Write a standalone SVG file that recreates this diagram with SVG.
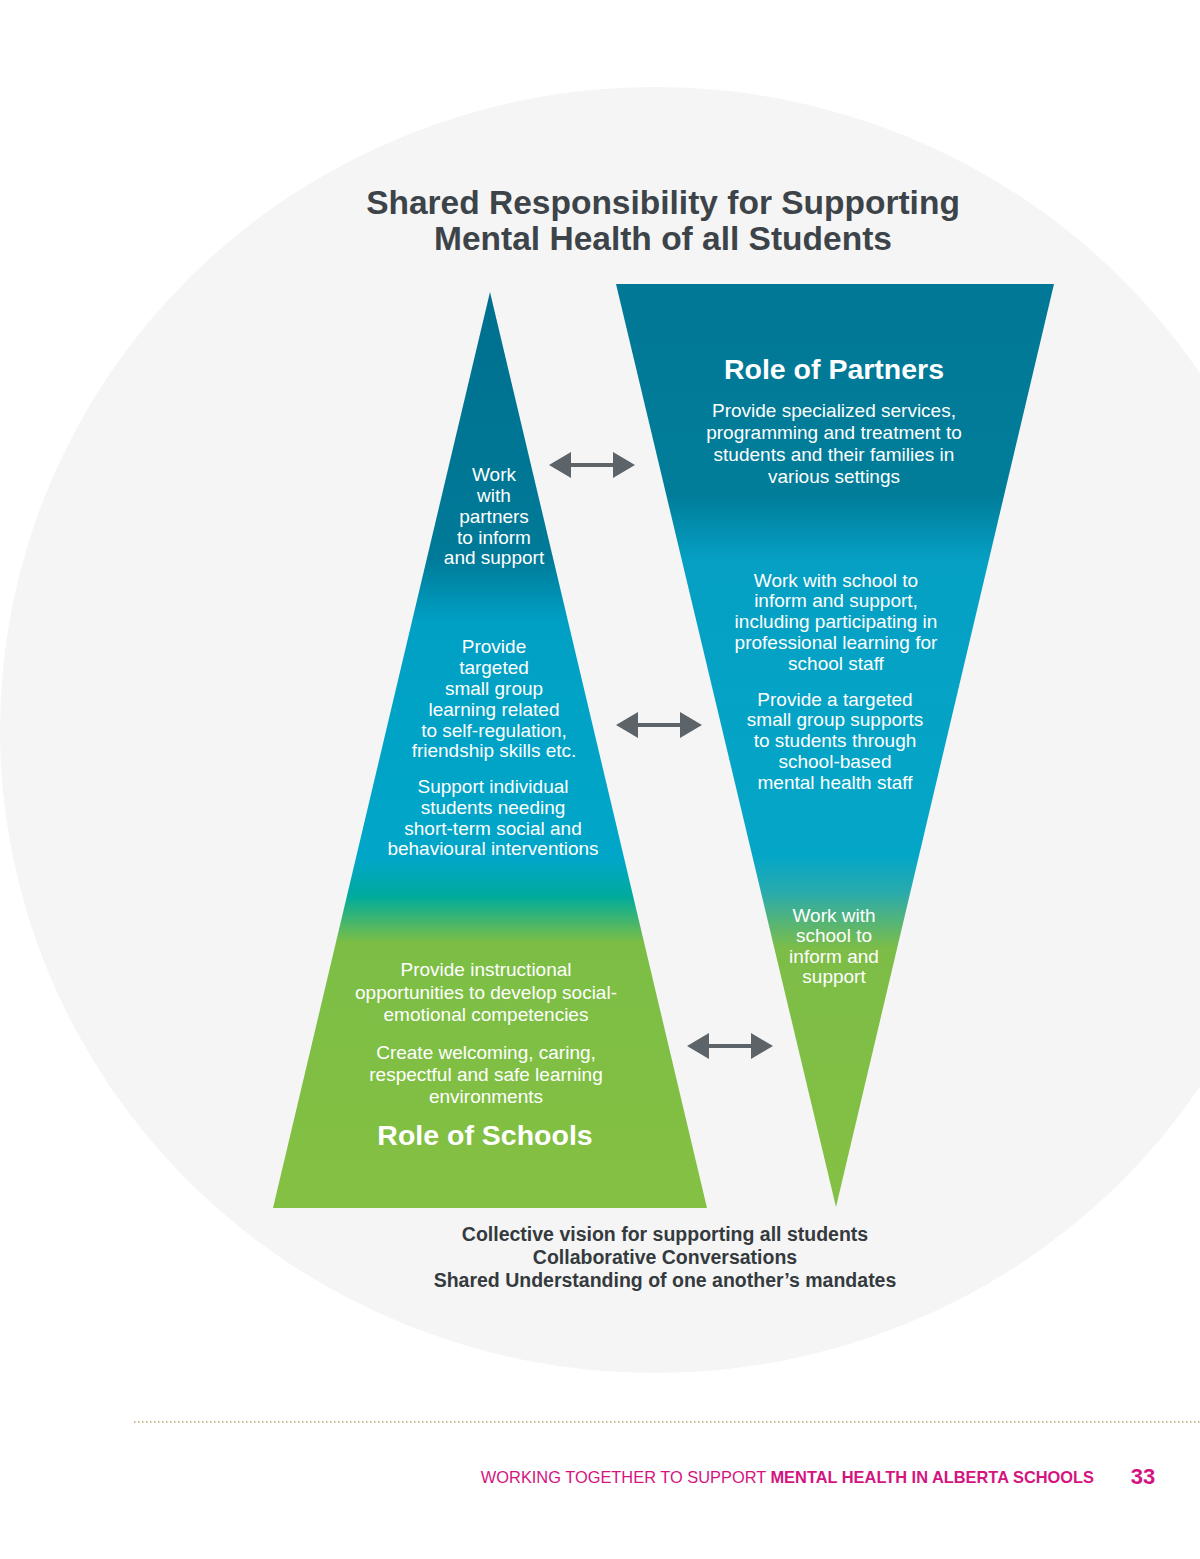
<svg xmlns="http://www.w3.org/2000/svg" width="1200" height="1559" viewBox="0 0 1200 1559">
<defs>
<linearGradient id="gl" x1="0" y1="292" x2="0" y2="1208" gradientUnits="userSpaceOnUse">
<stop offset="0" stop-color="#006f8f"/>
<stop offset="0.29" stop-color="#007a98"/>
<stop offset="0.36" stop-color="#00a0c4"/>
<stop offset="0.62" stop-color="#00a6c8"/>
<stop offset="0.66" stop-color="#00ab9c"/>
<stop offset="0.71" stop-color="#7cbe45"/>
<stop offset="1" stop-color="#84c043"/>
</linearGradient>
<linearGradient id="gr" x1="0" y1="284" x2="0" y2="1207" gradientUnits="userSpaceOnUse">
<stop offset="0" stop-color="#017895"/>
<stop offset="0.23" stop-color="#017d9a"/>
<stop offset="0.30" stop-color="#05a0c4"/>
<stop offset="0.62" stop-color="#04a6c8"/>
<stop offset="0.66" stop-color="#2aabab"/>
<stop offset="0.72" stop-color="#7dbd47"/>
<stop offset="1" stop-color="#84c043"/>
</linearGradient>
<g id="arr">
<polygon points="0,0 22,-13 22,-2 64,-2 64,-13 86,0 64,13 64,2 22,2 22,13" fill="#5c6469"/>
</g>
</defs>
<style>
.t{font-family:"Liberation Sans",Arial,sans-serif;fill:#fff;font-size:19px;text-anchor:middle}
.h{font-family:"Liberation Sans",Arial,sans-serif;fill:#fff;font-size:28.5px;font-weight:bold;text-anchor:middle}
.ti{font-family:"Liberation Sans",Arial,sans-serif;fill:#3d4449;font-size:33.5px;font-weight:bold;text-anchor:middle}
.b{font-family:"Liberation Sans",Arial,sans-serif;fill:#343a3e;font-size:19.5px;font-weight:bold;text-anchor:middle}
.f{font-family:"Liberation Sans",Arial,sans-serif;fill:#d4147f;font-size:16.4px}
</style>
<rect width="1200" height="1559" fill="#fff"/>
<ellipse cx="655" cy="730" rx="655" ry="643" fill="#f5f5f5"/>
<text class="ti" x="663" y="214">Shared Responsibility for Supporting</text>
<text class="ti" x="663" y="250">Mental Health of all Students</text>

<g id="schools">
<polygon points="490,292 707,1208 273,1208" fill="url(#gl)"/>
<text class="t" x="494" y="481">Work</text>
<text class="t" x="494" y="502">with</text>
<text class="t" x="494" y="523">partners</text>
<text class="t" x="494" y="544">to inform</text>
<text class="t" x="494" y="564">and support</text>
<text class="t" x="494" y="653">Provide</text>
<text class="t" x="494" y="674">targeted</text>
<text class="t" x="494" y="695">small group</text>
<text class="t" x="494" y="716">learning related</text>
<text class="t" x="494" y="737">to self-regulation,</text>
<text class="t" x="494" y="757">friendship skills etc.</text>
<text class="t" x="493" y="793">Support individual</text>
<text class="t" x="493" y="814">students needing</text>
<text class="t" x="493" y="835">short-term social and</text>
<text class="t" x="493" y="855">behavioural interventions</text>
<text class="t" x="486" y="976">Provide instructional</text>
<text class="t" x="486" y="999">opportunities to develop social-</text>
<text class="t" x="486" y="1021">emotional competencies</text>
<text class="t" x="486" y="1059">Create welcoming, caring,</text>
<text class="t" x="486" y="1081">respectful and safe learning</text>
<text class="t" x="486" y="1103">environments</text>
<text class="h" x="485" y="1145">Role of Schools</text>
</g>

<g id="partners">
<polygon points="616,284 1054,284 836,1207" fill="url(#gr)"/>
<text class="h" x="834" y="379">Role of Partners</text>
<text class="t" x="834" y="417">Provide specialized services,</text>
<text class="t" x="834" y="439">programming and treatment to</text>
<text class="t" x="834" y="461">students and their families in</text>
<text class="t" x="834" y="483">various settings</text>
<text class="t" x="836" y="587">Work with school to</text>
<text class="t" x="836" y="607">inform and support,</text>
<text class="t" x="836" y="628">including participating in</text>
<text class="t" x="836" y="649">professional learning for</text>
<text class="t" x="836" y="670">school staff</text>
<text class="t" x="835" y="706">Provide a targeted</text>
<text class="t" x="835" y="726">small group supports</text>
<text class="t" x="835" y="747">to students through</text>
<text class="t" x="835" y="768">school-based</text>
<text class="t" x="835" y="789">mental health staff</text>
<text class="t" x="834" y="922">Work with</text>
<text class="t" x="834" y="942">school to</text>
<text class="t" x="834" y="963">inform and</text>
<text class="t" x="834" y="983">support</text>
</g>

<g id="connectors">
<use href="#arr" x="549" y="465"/>
<use href="#arr" x="616" y="725"/>
<use href="#arr" x="687" y="1046"/>
</g>

<g id="caption">
<text class="b" x="665" y="1241">Collective vision for supporting all students</text>
<text class="b" x="665" y="1264">Collaborative Conversations</text>
<text class="b" x="665" y="1287">Shared Understanding of one another’s mandates</text>
</g>

<line x1="134" y1="1422" x2="1200" y2="1422" stroke="#b8a96e" stroke-width="1.5" stroke-dasharray="1.5 2.5"/>
<text class="f" x="1094" y="1483" text-anchor="end">WORKING TOGETHER TO SUPPORT <tspan font-weight="bold">MENTAL HEALTH IN ALBERTA SCHOOLS</tspan></text>
<text x="1143" y="1484" text-anchor="middle" font-family="Liberation Sans, Arial, sans-serif" font-weight="bold" font-size="22" fill="#d4147f">33</text>
</svg>
